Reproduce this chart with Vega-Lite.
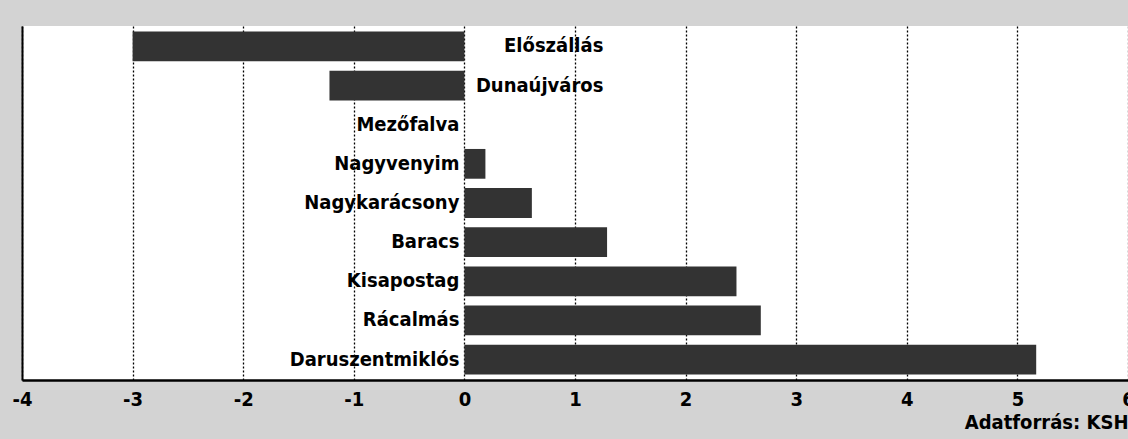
{
  "$schema": "https://vega.github.io/schema/vega-lite/v6.json",
  "autosize": {"type": "none"},
  "width": 1106,
  "height": 354,
  "padding": {"left": 22, "top": 26, "right": 0, "bottom": 59},
  "background": "#d3d3d3",
  "config": {
    "view": {"fill": "white", "stroke": null},
    "font": "DejaVu Sans Condensed"
  },
  "data": {
    "values": [
      {"telepules": "Előszállás", "ertek": -3.0},
      {"telepules": "Dunaújváros", "ertek": -1.22},
      {"telepules": "Mezőfalva", "ertek": 0},
      {"telepules": "Nagyvenyim", "ertek": 0.19},
      {"telepules": "Nagykarácsony", "ertek": 0.61},
      {"telepules": "Baracs", "ertek": 1.29},
      {"telepules": "Kisapostag", "ertek": 2.46},
      {"telepules": "Rácalmás", "ertek": 2.68},
      {"telepules": "Daruszentmiklós", "ertek": 5.17}
    ]
  },
  "encoding": {
    "y": {
      "field": "telepules",
      "type": "nominal",
      "sort": null,
      "scale": {"paddingInner": 0.24, "paddingOuter": 0.14},
      "axis": {"labels": false, "ticks": false, "title": null, "domain": true, "domainColor": "black", "domainWidth": 2, "grid": false}
    }
  },
  "layer": [
    {
      "mark": {"type": "bar", "color": "#333333"},
      "encoding": {
        "x": {
          "field": "ertek",
          "type": "quantitative",
          "scale": {"domain": [-4, 6], "nice": false, "zero": false},
          "axis": {
            "values": [-4, -3, -2, -1, 0, 1, 2, 3, 4, 5, 6],
            "labelExpr": "datum.value < 0 ? '-' + abs(datum.value) : '' + datum.value",
            "grid": true,
            "gridColor": "black",
            "gridDash": [2, 2],
            "gridWidth": 1.3,
            "gridOpacity": 1,
            "domainColor": "black",
            "domainWidth": 2.5,
            "ticks": false,
            "labelFlush": false,
            "labelFont": "DejaVu Sans Condensed",
            "labelFontWeight": "bold",
            "labelFontSize": 20,
            "labelColor": "black",
            "labelPadding": 9,
            "title": "Adatforrás: KSH",
            "titleAnchor": "end",
            "titleFont": "DejaVu Sans Condensed",
            "titleFontWeight": "bold",
            "titleFontSize": 20,
            "titleColor": "black",
            "titlePadding": 3
          }
        }
      }
    },
    {
      "mark": {"type": "rule", "color": "black", "strokeWidth": 2},
      "encoding": {"x": {"datum": 0, "type": "quantitative"}}
    },
    {
      "transform": [{"filter": "datum.ertek >= 0"}],
      "mark": {"type": "text", "align": "right", "baseline": "middle", "dx": -5, "font": "DejaVu Sans Condensed", "fontWeight": "bold", "fontSize": 20, "color": "black"},
      "encoding": {
        "x": {"datum": 0, "type": "quantitative"},
        "text": {"field": "telepules"}
      }
    },
    {
      "transform": [{"filter": "datum.ertek < 0"}],
      "mark": {"type": "text", "align": "right", "baseline": "middle", "dx": 139, "font": "DejaVu Sans Condensed", "fontWeight": "bold", "fontSize": 20, "color": "black"},
      "encoding": {
        "x": {"datum": 0, "type": "quantitative"},
        "text": {"field": "telepules"}
      }
    }
  ]
}
